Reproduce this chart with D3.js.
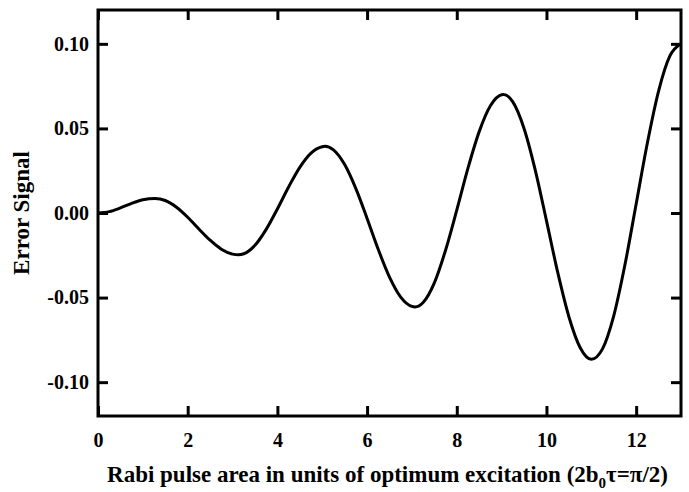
<!DOCTYPE html>
<html>
<head>
<meta charset="utf-8">
<script src="https://cdn.jsdelivr.net/npm/d3@7"></script>
<style>
  html, body { margin: 0; padding: 0; background: #fff; }
  svg { display: block; }
  .axis text { font-family: "Liberation Serif", "Times New Roman", serif; font-weight: bold; font-size: 20px; fill: #000; }
  .axis line { stroke: #000; stroke-width: 3; }
  .title { font-family: "Liberation Serif", "Times New Roman", serif; font-weight: bold; font-size: 23px; fill: #000; }
</style>
</head>
<body>
<div id="chart"></div>
<script>
// Pulse area (x) and error signal (y)
const pulseArea = [
  0, 0.25, 0.5, 0.75, 1.0, 1.27, 1.5, 1.75, 2.0, 2.25, 2.5, 2.75, 3.0, 3.13,
  3.25, 3.5, 3.75, 4.0, 4.25, 4.5, 4.75, 5.0, 5.06, 5.25, 5.5, 5.75, 6.0,
  6.25, 6.5, 6.75, 7.0, 7.07, 7.25, 7.5, 7.75, 8.0, 8.25, 8.5, 8.75, 9.0,
  9.04, 9.25, 9.5, 9.75, 10.0, 10.25, 10.5, 10.75, 11.0, 11.25, 11.5, 11.75,
  12.0, 12.25, 12.5, 12.75, 13.0
];
const errorSignal = [
  0, 0.0008, 0.0030, 0.0057, 0.0078, 0.0086, 0.0074, 0.0034, -0.0025, -0.0095,
  -0.0161, -0.0214, -0.0243, -0.0247, -0.0241, -0.0191, -0.0097, 0.0024,
  0.0154, 0.0270, 0.0354, 0.0392, 0.0394, 0.0373, 0.0286, 0.0144, -0.0032,
  -0.0216, -0.0379, -0.0497, -0.0552, -0.0555, -0.0529, -0.0413, -0.0220,
  0.0017, 0.0265, 0.0481, 0.0634, 0.0699, 0.0700, 0.0657, 0.0500, 0.0254,
  -0.0045, -0.0350, -0.0613, -0.0795, -0.0865, -0.0803, -0.0608, -0.0306,
  0.0053, 0.0414, 0.0721, 0.0927, 0.1000
];

// Tick values and labels
const xTicks = [0, 2, 4, 6, 8, 10, 12];
const yTicks = [0.10, 0.05, 0.00, -0.05, -0.10];
const yTickLabels = ['0.10', '0.05', '0.00', '-0.05', '-0.10'];

const W = 689, H = 492;
const margin = { top: 10, right: 8, bottom: 76, left: 98 };
const width = W - margin.left - margin.right;
const height = H - margin.top - margin.bottom;

const svg = d3.select('#chart')
  .append('svg')
  .attr('width', W)
  .attr('height', H);

const g = svg.append('g')
  .attr('transform', `translate(${margin.left},${margin.top})`);

const x = d3.scaleLinear().domain([0, 13]).range([0, width]);
const y = d3.scaleLinear().domain([-0.12, 0.12]).range([height, 0]);

// Bottom axis with labels
g.append('g')
  .attr('class', 'axis')
  .attr('transform', `translate(0,${height})`)
  .call(d3.axisBottom(x).tickValues(xTicks).tickSize(-10).tickPadding(17).tickFormat(d3.format('d')))
  .call((a) => a.select('.domain').remove());

// Top axis, ticks only
g.append('g')
  .attr('class', 'axis')
  .call(d3.axisTop(x).tickValues(xTicks).tickSize(-10).tickFormat(''))
  .call((a) => a.select('.domain').remove());

// Left axis with labels
g.append('g')
  .attr('class', 'axis')
  .call(d3.axisLeft(y).tickValues(yTicks).tickSize(-10).tickPadding(9)
    .tickFormat((d, i) => yTickLabels[i]))
  .call((a) => a.select('.domain').remove());

// Right axis, ticks only
g.append('g')
  .attr('class', 'axis')
  .attr('transform', `translate(${width},0)`)
  .call(d3.axisRight(y).tickValues(yTicks).tickSize(-10).tickFormat(''))
  .call((a) => a.select('.domain').remove());

// Frame
g.append('rect')
  .attr('x', 0)
  .attr('y', 0)
  .attr('width', width)
  .attr('height', height)
  .attr('fill', 'none')
  .attr('stroke', '#000')
  .attr('stroke-width', 3);

// Curve
const line = d3.line()
  .x((d) => x(d[0]))
  .y((d) => y(d[1]))
  .curve(d3.curveMonotoneX);

g.append('path')
  .datum(pulseArea.map((p, i) => [p, errorSignal[i]]))
  .attr('fill', 'none')
  .attr('stroke', '#000')
  .attr('stroke-width', 3)
  .attr('stroke-linejoin', 'round')
  .attr('d', line);

// Axis titles
const xTitle = svg.append('text')
  .attr('class', 'title')
  .attr('x', margin.left + width / 2 - 2)
  .attr('y', 482)
  .attr('text-anchor', 'middle');
xTitle.append('tspan').text('Rabi pulse area in units of optimum excitation (2b');
xTitle.append('tspan').attr('font-size', '15px').attr('dy', 6).text('0');
xTitle.append('tspan').attr('dy', -6).text('\u03c4=\u03c0/2)');

svg.append('text')
  .attr('class', 'title')
  .attr('transform', `translate(29,${margin.top + height / 2}) rotate(-90)`)
  .attr('text-anchor', 'middle')
  .text('Error Signal');
</script>
</body>
</html>
